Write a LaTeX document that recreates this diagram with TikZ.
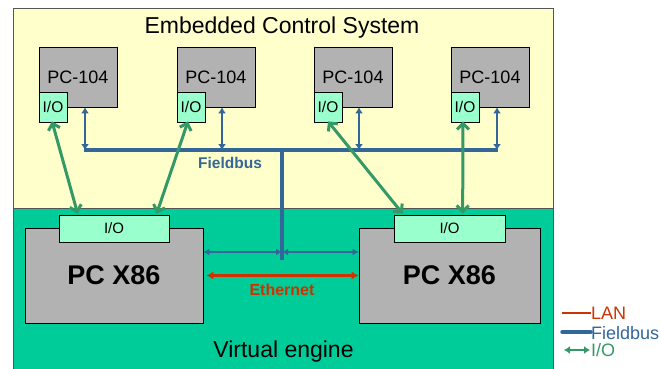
\documentclass[tikz,border=0pt]{standalone}
\usepackage{fontspec}
\setmainfont{Liberation Sans}
\usetikzlibrary{arrows.meta,calc}
\definecolor{ecsyellow}{HTML}{FFFFCC}
\definecolor{vegreen}{HTML}{00CC99}
\definecolor{boxgray}{HTML}{B2B2B2}
\definecolor{iogreen}{HTML}{99FFCC}
\definecolor{busblue}{HTML}{336699}
\definecolor{ioarrow}{HTML}{339966}
\definecolor{lanred}{HTML}{CC3300}
\definecolor{frame}{HTML}{555555}
\begin{document}
\begin{tikzpicture}[x=1pt,y=-1pt,
  area/.style={draw=frame,line width=0.8pt,inner sep=0pt,anchor=north west},
  pcsmall/.style={draw=black,fill=boxgray,line width=0.7pt,inner sep=0pt,minimum width=78pt,minimum height=60pt,font=\fontsize{18}{20}\selectfont},
  iosmall/.style={draw=black,fill=iogreen,line width=0.7pt,inner sep=0pt,minimum width=28pt,minimum height=30pt,font=\fontsize{15.5}{17}\selectfont},
  pcbig/.style={draw=black,fill=boxgray,line width=0.7pt,inner sep=0pt,minimum height=95pt,font=\bfseries\fontsize{27}{30}\selectfont},
  iobig/.style={draw=black,fill=iogreen,line width=0.7pt,inner sep=0pt,minimum height=27pt,font=\fontsize{15}{17}\selectfont},
  fbarrow/.style={draw=busblue,line width=2.4pt,{Latex[length=6pt,width=8pt]}-{Latex[length=6pt,width=8pt]}},
  fbarrowlow/.style={draw=busblue,line width=2pt,{Latex[length=6pt,width=7pt]}-{Latex[length=6pt,width=7pt]}},
  busline/.style={draw=busblue,line width=3.2pt},
  ioconn/.style={draw=ioarrow,line width=3pt,{Straight Barb[length=6pt,width=12pt]}-{Straight Barb[length=6pt,width=12pt]}},
  lanarrow/.style={draw=lanred,line width=2.4pt,{Latex[length=7pt,width=8pt]}-{Latex[length=7pt,width=8pt]}},
  title/.style={font=\fontsize{23}{26}\selectfont,anchor=base},
  legtext/.style={anchor=west,inner sep=0pt,font=\fontsize{18}{20}\selectfont}
]
\useasboundingbox (0,0) rectangle (661,368);
% areas
\node[area,fill=ecsyellow,minimum width=540pt,minimum height=200.5pt] (ecs) at (12.5,7.5) {};
\node[area,fill=vegreen,minimum width=540pt,minimum height=165pt] (ve) at (12.5,208) {};
\node[title] (ecst) at (282,33) {Embedded Control System};
\node[title] (vet) at (283.5,357) {Virtual engine};
% PC-104 boxes
\node[pcsmall] (p1) at (78,77) {PC-104};
\node[pcsmall] (p2) at (216,77) {PC-104};
\node[pcsmall] (p3) at (353,77) {PC-104};
\node[pcsmall] (p4) at (490,77) {PC-104};
\node[iosmall] (i1) at (53,107) {I/O};
\node[iosmall] (i2) at (191,107) {I/O};
\node[iosmall] (i3) at (328,107) {I/O};
\node[iosmall] (i4) at (465,107) {I/O};
% PC X86
\node[pcbig,minimum width=178pt] (pcL) at (114,275.5) {PC X86};
\node[pcbig,minimum width=181pt] (pcR) at (449.5,275.5) {PC X86};
\node[iobig,minimum width=110pt] (ioL) at (114,228.5) {I/O};
\node[iobig,minimum width=111pt] (ioR) at (449.5,228.5) {I/O};
% fieldbus
\coordinate (b1) at (85,150);
\coordinate (b2) at (222,150);
\coordinate (b3) at (359,150);
\coordinate (b4) at (497,150);
\coordinate (t1) at (282,150);
\coordinate (t2) at (282,260);
\coordinate (tm) at (282,252);
\draw[busline] ($(b1)+(-1,0)$) -- ($(b4)+(1,0)$);
\draw[busline] (t1) -- (t2);
\draw[fbarrow] (p1.south -| b1) -- (b1);
\draw[fbarrow] (p2.south -| b2) -- (b2);
\draw[fbarrow] (p3.south -| b3) -- (b3);
\draw[fbarrow] (p4.south -| b4) -- (b4);
\draw[fbarrowlow] (pcL.east |- tm) -- (tm);
\draw[fbarrowlow] (tm) -- (pcR.west |- tm);
\node[font=\bfseries\fontsize{15.5}{17}\selectfont,text=busblue] (fbl) at (230,163) {Fieldbus};
% ethernet
\draw[lanarrow,shorten <=3pt] (pcL.east) -- (pcR.west);
\node[font=\bfseries\fontsize{16}{18}\selectfont,text=lanred] (ethl) at (282,290) {Ethernet};
% I/O connections
\draw[ioconn] ($(i1.south)+(-1,-1)$) -- ($(ioL.north west)+(19,-1)$);
\draw[ioconn] ($(i2.south)+(-3,-1)$) -- ($(ioL.north west)+(98,-1)$);
\draw[ioconn] ($(i3.south)+(0,-1)$) -- ($(ioR.north west)+(9,-1)$);
\draw[ioconn] ($(i4.south)+(-2,-1)$) -- ($(ioR.north west)+(69,-1)$);
% legend
\coordinate (la) at (562,313);
\coordinate (lb) at (591,313);
\coordinate (fa) at (562,332);
\coordinate (fb) at (591,332);
\coordinate (ga) at (564,350);
\coordinate (gb) at (590,350);
\draw[draw=lanred,line width=1.6pt] (la) -- (lb);
\node[legtext,text=lanred] (lanl) at (591,313) {LAN};
\draw[draw=busblue,line width=3.5pt,line cap=round] (fa) -- (fb);
\node[legtext,text=busblue] (fbleg) at (591,333) {Fieldbus};
\draw[draw=ioarrow,line width=2.2pt,{Latex[length=6pt,width=8pt]}-{Latex[length=6pt,width=8pt]}] (ga) -- (gb);
\node[legtext,text=ioarrow] (iol) at (591,350.5) {I/O};
\end{tikzpicture}
\end{document}
